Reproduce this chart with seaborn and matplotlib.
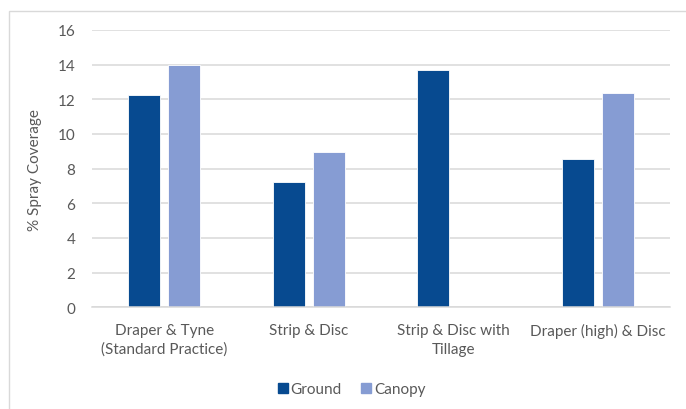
import matplotlib
matplotlib.use("Agg")
import matplotlib.pyplot as plt
import seaborn as sns
import pandas as pd
from matplotlib.patches import Rectangle
from matplotlib.lines import Line2D

categories = ["Draper & Tyne\n(Standard Practice)", "Strip & Disc",
              "Strip & Disc with\nTillage", "Draper (high) & Disc"]
ground = [12.25, 7.25, 13.7, 8.55]
canopy = [14.0, 8.95, None, 12.35]
series = ["Ground", "Canopy"]
colors = ["#074A90", "#869CD3"]
yticks = [0, 2, 4, 6, 8, 10, 12, 14, 16]

rows = []
for c, g, k in zip(categories, ground, canopy):
    rows.append({"Method": c, "Series": "Ground", "Value": g})
    if k is not None:
        rows.append({"Method": c, "Series": "Canopy", "Value": k})
df = pd.DataFrame(rows)

sns.set_theme(style="white")
plt.rcParams["font.family"] = ["Lato", "DejaVu Sans"]
text_color = "#595959"
grid_color = "#D9D9D9"
fs = 11

fig = plt.figure(figsize=(6.86, 4.10), dpi=100)
W, H = 686, 410
ax = fig.add_axes([92 / W, (H - 308.3) / H, (670 - 92) / W, (308.3 - 31) / H])

sns.barplot(data=df, x="Method", y="Value", hue="Series", order=categories,
            hue_order=series, palette=colors, width=0.56, gap=0.21,
            edgecolor="white", linewidth=0.6, saturation=1, ax=ax, legend=False)

ax.set_ylim(0, 16)
ax.set_xlim(-0.5, len(categories) - 0.5)
ax.set_yticks(yticks)
ax.set_yticklabels([str(t) for t in yticks])
ax.yaxis.grid(True, color=grid_color, linewidth=1.1)
ax.set_axisbelow(True)
for s in ["top", "right", "left"]:
    ax.spines[s].set_visible(False)
ax.spines["bottom"].set_color(grid_color)
ax.spines["bottom"].set_linewidth(1.1)
ax.tick_params(axis="y", length=0, pad=12, labelsize=fs, labelcolor=text_color)
ax.tick_params(axis="x", length=0, pad=11, labelsize=fs, labelcolor=text_color)
for lbl in ax.get_xticklabels():
    lbl.set_linespacing(1.45)
ax.set_xlabel("")
ax.set_ylabel("% Spray Coverage", color=text_color, fontsize=fs)
ax.yaxis.set_label_coords(-0.086, 0.5)

# chart area border
fig.patches.append(Rectangle((8.5 / W, -0.05), 1.1, (H - 11.5) / H + 0.05,
                             transform=fig.transFigure, fill=False,
                             edgecolor="#D9D9D9", linewidth=1.0))

handles = [Line2D([], [], marker="s", linestyle="none", markersize=7,
                  markerfacecolor=c, markeredgecolor=c) for c in colors]
fig.legend(handles, series, loc="center", bbox_to_anchor=(351 / W, (H - 390) / H),
           ncol=2, frameon=False, fontsize=fs, labelcolor=text_color,
           handletextpad=0.1, columnspacing=1.2, handlelength=0.8)

fig.savefig("out.png", dpi=100)
